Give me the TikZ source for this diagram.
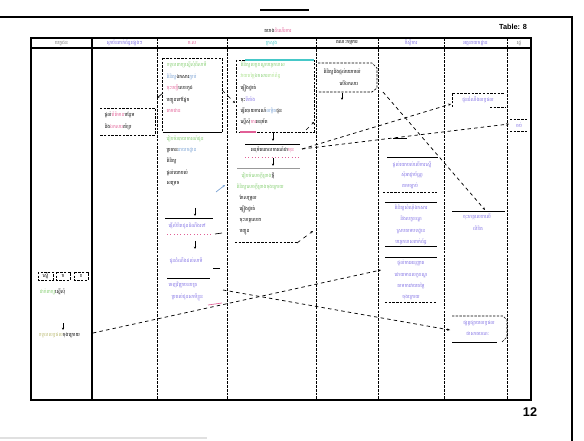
\documentclass[tikz,border=0pt]{standalone}
\usepackage{fontspec}
\newfontfamily\kh[Script=Khmer]{Battambang}
\newfontfamily\hd{Liberation Sans}
\usetikzlibrary{arrows.meta}

\definecolor{khpurple}{RGB}{128,112,228}
\definecolor{khgreen}{RGB}{130,205,110}
\definecolor{khlgreen}{RGB}{170,225,140}
\definecolor{khteal}{RGB}{70,200,200}
\definecolor{khpink}{RGB}{225,95,150}
\definecolor{khgray}{RGB}{120,120,120}
\definecolor{khblue}{RGB}{120,160,210}
\definecolor{kholive}{RGB}{185,185,110}

\tikzset{every picture/.style={line width=0.75pt}}
\tikzset{
  kt/.style={font=\kh\fontsize{3.6}{4}\selectfont, inner sep=0.75pt, anchor=west},
  ktc/.style={kt, anchor=center},
  lane/.style={line width=0.7pt, dash pattern=on 2pt off 0.8pt},
  boxline/.style={line width=0.5pt, dash pattern=on 1.8pt off 1pt},
  rule/.style={line width=0.6pt},
  link/.style={line width=0.55pt, dash pattern=on 2.6pt off 2.4pt, -{Stealth[length=2.2pt,width=1.8pt]}},
  tick/.style={line width=0.5pt, -{Stealth[length=1.8pt,width=1.6pt]}},
}

\begin{document}
\begin{tikzpicture}[x=0.75pt,y=0.75pt,yscale=-1,xscale=1]
\useasboundingbox (0,0) rectangle (584,441);

% page frame
\draw [line width=1.3pt] (0,17) -- (572,17) -- (572,441) ;
\draw [line width=1pt] (260,10) -- (309,10) ;
\draw [color=black!12, line width=1pt] (0,438) -- (207,438) ;
\draw (278,30) node [ktc] (title) {តារាង\textcolor{khpink}{ដំណើរការ}};
\draw (513,27) node [inner sep=0.75pt, font=\hd\bfseries\fontsize{5.5}{6}\selectfont] (tabno) {Table: 8};
\draw (530,412) node [inner sep=0.75pt, font=\hd\bfseries\fontsize{9.5}{10}\selectfont] (pageno) {12};

% table frame and lanes
\draw [line width=0.9pt] (31,38) rectangle (531,400) ;
\draw [line width=1.1pt] (31,48) -- (531,48) ;
\draw [line width=1pt] (92,38) -- (92,400) ;
\foreach \x in {157,227,316,378,444,507}
  \draw [lane] (\x,38) -- (\x,400) ;

% headers
\draw (61.5,43) node [ktc, text=khgray] (h1) {បេក្ខជន};
\draw (124.5,43) node [ktc, text=khpurple] (h2) {ស្ថាប័នពាក់ព័ន្ធផ្សេងៗ};
\draw (192,43) node [ktc, text=khpink] (h3) {ក.ស};
\draw (271.5,43) node [ktc, text=khteal] (h4) {ក្រសួង};
\draw (347,43) node [ktc] (h5) {គណៈកម្មការ};
\draw (411,43) node [ktc, text=khpurple] (h6) {ទីស្ដីការ};
\draw (475.5,43) node [ktc, text=khpurple] (h7) {អគ្គនាយកដ្ឋាន};
\draw (519,43) node [ktc, text=khgray] (h8) {រដ្ឋ};

% lane 1
\draw [boxline] (38,272) rectangle (53,280) ;
\draw [boxline] (56,272) rectangle (70,280) ;
\draw [boxline] (74,272) rectangle (88,280) ;
\draw (45.5,276) node [ktc] (s1) {ស្នើ};
\draw (63,276) node [ktc] (s2) {ក};
\draw (81,276) node [ktc] (s3) {ខ};
\draw (38,292) node [kt, text=khgreen] (apply) {ដាក់ពាក្យ\textcolor{black}{ស្នើសុំ}};
\draw [tick] (63,323) -- (63,330) ;
\draw (37,335) node [kt, text=kholive] (result) {ទទួលលទ្ធផល\textcolor{black}{ចុងក្រោយ}};
\coordinate (resultE) at (93,333);

% lane 2
\draw [boxline] (100,108) -- (155,108) -- (155,135) -- (100,135) ;
\draw (103,115) node [kt] (info1) {ផ្ដល់\textcolor{khpink}{ព័ត៌មាន}បន្ថែម};
\draw (103,127) node [kt] (info2) {និង\textcolor{khpink}{ឯកសារ}គាំទ្រ};

% lane 3
\draw [boxline] (162,58) rectangle (222,132) ;
\draw [rule] (165,132) -- (222,132) ;
\draw (165,65) node [kt, text=khgreen] (r1) {ទទួលពាក្យស្នើសុំពីសាមី};
\draw (165,77) node [kt, text=khblue] (r2) {ពិនិត្យ\textcolor{black}{ឯកសារ}ភ្ជាប់};
\draw (165,88) node [kt, text=khpink] (r3) {ចុះបញ្ជី\textcolor{black}{លេខកូដ}};
\draw (165,100) node [kt] (r4) {បញ្ជូនទៅផ្នែក};
\draw (165,111) node [kt, text=khpink] (r5) {តាមដាន};
\draw (165,139) node [kt, text=khgreen] (p1) {រៀបចំរបាយការណ៍ជូន};
\draw (165,150) node [kt] (p2) {ប្រធាន\textcolor{khblue}{នាយកដ្ឋាន}};
\draw (165,161) node [kt] (p3) {ពិនិត្យ};
\draw (165,173) node [kt] (p4) {ផ្ដល់យោបល់};
\draw (165,184) node [kt] (p5) {សម្រេច};
\draw [tick] (195,208) -- (195,216) ;
\draw [rule] (165,218) -- (213,218) ;
\draw (167,226) node [kt, text=khpurple] (n1) {ផ្ញើលិខិតជូនដំណឹងទៅ};
\draw [khpink, line width=0.5pt, dotted] (167,234) -- (213,234) ;
\draw [line width=0.5pt] (215,234) -- (222,233) ;
\draw [tick] (195,241) -- (195,249) ;
\draw (168,261) node [kt, text=khpurple] (n2) {ជូនដំណឹងដល់សាមី};
\draw [line width=0.5pt] (213,268) -- (220,268) ;
\draw [rule] (167,278) -- (210,278) ;
\draw (167,285) node [kt, text=khpurple] (n3) {ចេញវិញ្ញាបនបត្រ};
\draw (170,297) node [kt, text=khpurple] (n4) {ប្រគល់ជូនសាមីខ្លួន};
\draw [khpink, line width=0.5pt] (208,305) -- (222,303) ;
\coordinate (n3E) at (223,290);

% lane 4
\draw [boxline] (236,60) rectangle (314,132) ;
\draw [khteal, line width=0.8pt] (245,60) -- (314,60) ;
\draw [khpink, line width=0.8pt] (240,132) -- (256,132) ;
\draw (239,65) node [kt, text=khgreen] (t1) {ពិនិត្យលក្ខខណ្ឌបច្ចេកទេស};
\draw (239,76) node [kt, text=khlgreen] (t2) {វាយតម្លៃ\textcolor{khgreen}{ឯកសារ}ពាក់ព័ន្ធ};
\draw (239,88) node [kt] (t3) {ផ្ទៀងផ្ទាត់};
\draw (239,100) node [kt] (t4) {ចុះ\textcolor{khpurple}{ទីតាំង}};
\draw (239,111) node [kt] (t5) {ធ្វើរបាយការណ៍\textcolor{khblue}{លម្អិត}ជូន};
\draw (239,122) node [kt] (t6) {ស្នើសុំ\textcolor{khpink}{ការ}អនុម័ត};
\draw [tick] (273,132) -- (273,141) ;
\draw [rule] (245,144) -- (300,144) ;
\draw (272.5,150) node [ktc] (ok) {អនុម័តគោលការណ៍ជា\textcolor{khpink}{មុន}};
\draw [khpink, line width=0.5pt, dotted] (245,157) -- (300,157) ;
\draw [tick] (273,158) -- (273,166) ;
\draw [black!40, line width=0.6pt] (237,168) -- (300,168) ;
\draw (240,176) node [kt, text=khgreen] (d1) {រៀបចំសេចក្ដីព្រាង\textcolor{black}{ថ្មី}};
\draw (235,187) node [kt, text=khgreen] (d2) {ពិនិត្យសេចក្ដីព្រាងចុងក្រោយ};
\draw (238,198) node [kt] (d3) {កែសម្រួល};
\draw (238,209) node [kt] (d4) {ផ្ទៀងផ្ទាត់};
\draw (238,221) node [kt] (d5) {ចុះហត្ថលេខា};
\draw (238,232) node [kt] (d6) {បញ្ជូន};
\draw [boxline] (235,242) -- (297,242) ;
\coordinate (okE) at (302,149);

% lane 5
\draw [boxline] (318,63) -- (372,63) -- (377,68) -- (377,88) -- (372,92) -- (318,92) ;
\draw (322,72) node [kt] (c1) {ពិនិត្យនិងផ្ដល់យោបល់};
\draw (338,83) node [kt] (c2) {លើឯកសារ};
\draw [tick] (342,93) -- (342,100) ;
\coordinate (c2SE) at (383,92);

% lane 6
\draw [line width=0.5pt] (393,138) -- (407,138) ;
\draw [rule] (387,157) -- (438,157) ;
\draw (412,165) node [ktc, text=khpurple] (a1) {ផ្ដល់យោបល់លើការស្នើ};
\draw (412,175) node [ktc, text=khpurple] (a2) {សុំអាជ្ញាប័ណ្ណ};
\draw (410,186) node [ktc, text=khpurple] (a3) {តាមច្បាប់};
\draw [boxline] (383,192) -- (437,192) ;
\draw [rule] (385,202) -- (437,202) ;
\draw (411,208) node [ktc, text=khpurple] (b1) {ពិនិត្យសំណុំឯកសារ};
\draw (411,219) node [ktc, text=khpurple] (b2) {និងលក្ខខណ្ឌ};
\draw (411,231) node [ktc, text=khpurple] (b3) {ស្របតាមបទដ្ឋាន};
\draw (411,242) node [ktc, text=khpurple] (b4) {បច្ចេកទេសពាក់ព័ន្ធ};
\draw [rule] (385,246) -- (437,246) ;
\draw [rule] (385,257) -- (437,257) ;
\draw (411,263) node [ktc, text=khpurple] (g1) {ផ្ដល់ការអនុញ្ញាត};
\draw (411,275) node [ktc, text=khpurple] (g2) {ដោយមានលក្ខខណ្ឌ};
\draw (411,286) node [ktc, text=khpurple] (g3) {តាមការវាយតម្លៃ};
\draw (411,297) node [ktc, text=khpurple] (g4) {ចុងក្រោយ};
\draw [boxline] (385,302) -- (437,302) ;
\coordinate (g2W) at (381,270);

% lane 7
\draw [boxline] (452,107) -- (452,93) -- (505,93) ;
\draw [boxline] (490,107) -- (505,107) ;
\draw (478,100) node [ktc, text=khpurple] (m1) {ជូនដំណឹងលទ្ធផល};
\coordinate (m1W) at (451,104);
\draw [rule] (452,211) -- (505,211) ;
\draw (477,217) node [ktc, text=khpurple] (m2) {ចុះហត្ថលេខាលើ};
\draw (478,228) node [ktc, text=khpurple] (m3) {លិខិត};
\coordinate (m2N) at (485,210);
\draw [boxline] (452,316) -- (503,316) -- (507,320) -- (507,337) -- (502,342) ;
\draw [rule] (452,342) -- (497,342) ;
\draw (479,323) node [ktc, text=khpurple] (m4) {ផ្សព្វផ្សាយលទ្ធផល};
\draw (478,334) node [ktc, text=khpurple] (m5) {ជាសាធារណៈ};
\coordinate (m4W) at (450,330);

% lane 8
\draw [boxline] (510,119) -- (528,119) ;
\draw [boxline] (510,131) -- (528,131) ;
\draw (519,125) node [ktc, text=khpurple] (fin) {ចប់};
\coordinate (finW) at (509,124);

% connectors
\draw [link] (c2SE) -- (m2N) ;
\draw [link] (okE) -- (m1W) ;
\draw [link] (okE) -- (finW) ;
\draw [link] (resultE) -- (g2W) ;
\draw [link] (n3E) -- (m4W) ;
\draw [tick, dashed] (222,90) -- (235,103) ;
\draw [tick, khblue] (216,192) -- (225,185) ;
\draw [tick, dashed] (297,243) -- (313,231) ;
\draw [tick, dashed] (306,130) -- (314,122) ;
\draw [tick] (163,93) -- (157,98) ;

\end{tikzpicture}
\end{document}
